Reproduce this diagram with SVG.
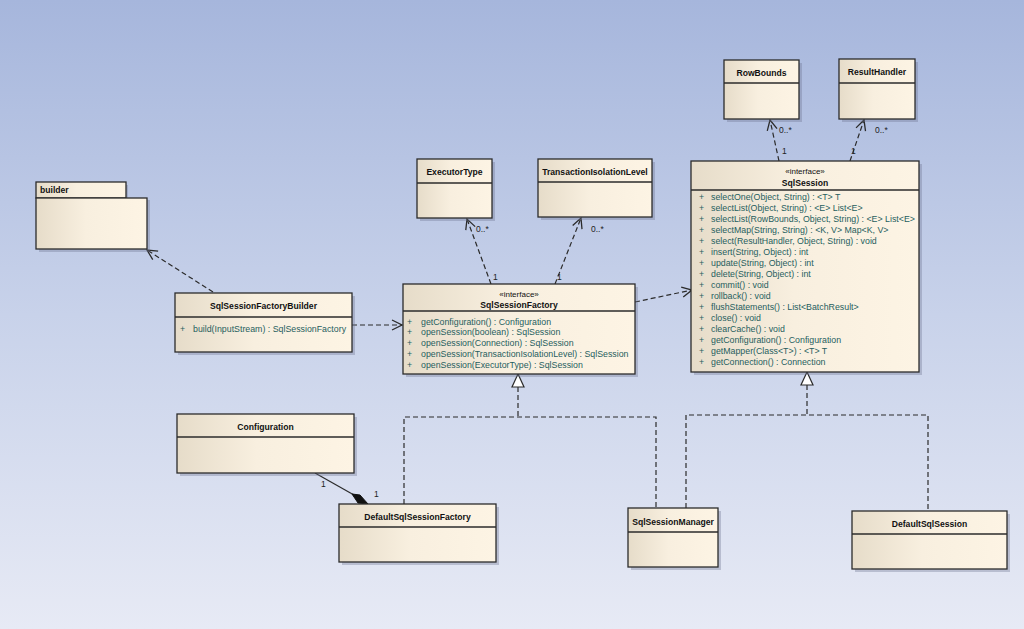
<svg xmlns="http://www.w3.org/2000/svg" width="1024" height="629" viewBox="0 0 1024 629">
<defs>
<linearGradient id="bg" x1="0" y1="0" x2="0" y2="1">
<stop offset="0" stop-color="#a6b6dc"/>
<stop offset="0.5" stop-color="#c8d2ea"/>
<stop offset="1" stop-color="#e7eaf5"/>
</linearGradient>
<linearGradient id="nf" x1="0" y1="0" x2="1" y2="0">
<stop offset="0" stop-color="#e6dcc9"/>
<stop offset="0.45" stop-color="#f8efdf"/>
<stop offset="1" stop-color="#fdf4e4"/>
</linearGradient>
<marker id="open" viewBox="0 0 12 12" refX="11" refY="6" markerWidth="12" markerHeight="12" markerUnits="userSpaceOnUse" orient="auto">
<path d="M1,1 L11,6 L1,11" fill="none" stroke="#2b2b2b" stroke-width="1.3"/>
</marker>
</defs>
<style>
.box{fill:url(#nf);stroke:#2b2b2b;stroke-width:1.3}
.sh{fill:#6e7490;opacity:0.35}
.div{stroke:#2b2b2b;stroke-width:1.3}
.t{font-family:"Liberation Sans",Arial,sans-serif;font-size:8.6px;font-weight:bold;fill:#111;text-anchor:middle}
.tl{font-family:"Liberation Sans",Arial,sans-serif;font-size:8.6px;font-weight:bold;fill:#111}
.st{font-family:"Liberation Sans",Arial,sans-serif;font-size:8px;fill:#111;text-anchor:middle}
.m{font-family:"Liberation Sans",Arial,sans-serif;font-size:8.8px;fill:#1f5e5e}
.lb{font-family:"Liberation Sans",Arial,sans-serif;font-size:8.5px;fill:#222}
.dep{fill:none;stroke:#2b2b2b;stroke-width:1.2;stroke-dasharray:5,3}
.sol{fill:none;stroke:#2b2b2b;stroke-width:1.2}
.tri{fill:#fff;stroke:#2b2b2b;stroke-width:1.2}
</style>
<rect width="1024" height="629" fill="url(#bg)"/>

<g id="connectors">
<path class="dep" d="M213,292 L147,250" marker-end="url(#open)"/>
<path class="dep" d="M352,325 L402,325" marker-end="url(#open)"/>
<path class="dep" d="M491,284 L467,219" marker-end="url(#open)"/>
<path class="dep" d="M555,284 L581,218" marker-end="url(#open)"/>
<path class="dep" d="M635,302 L692,290" marker-end="url(#open)"/>
<path class="dep" d="M779,161 L770,120" marker-end="url(#open)"/>
<path class="dep" d="M850,161 L864,120" marker-end="url(#open)"/>
<text class="lb" x="476" y="232">0..*</text>
<text class="lb" x="493" y="280">1</text>
<text class="lb" x="591" y="232">0..*</text>
<text class="lb" x="557" y="280">1</text>
<text class="lb" x="779" y="133">0..*</text>
<text class="lb" x="782" y="154">1</text>
<text class="lb" x="875" y="133">0..*</text>
<text class="lb" x="851" y="154">1</text>
<path class="dep" d="M518,387 L518,417 M404,504 L404,417 L656,417 L656,508"/>
<polygon class="tri" points="518,374 512,387 524,387"/>
<path class="dep" d="M807,385 L807,415 M686,508 L686,415 L928,415 L928,511"/>
<polygon class="tri" points="807,372 801,385 813,385"/>
<path class="sol" d="M315,473 L354,495"/>
<polygon points="352,494 360,495 368,504 358,503" fill="#111" stroke="#111" stroke-width="1"/>
<text class="lb" x="321" y="487">1</text>
<text class="lb" x="374" y="497">1</text>
</g>

<g id="builder">
<rect class="sh" x="39" y="185" width="89" height="15"/>
<rect class="sh" x="39" y="200" width="111" height="52"/>
<rect class="box" x="36" y="182" width="90" height="16"/>
<rect class="box" x="36" y="198" width="111" height="51"/>
<text class="tl" x="40" y="193">builder</text>
</g>

<g id="SqlSessionFactoryBuilder">
<rect class="sh" x="178" y="296" width="177" height="59"/>
<rect class="box" x="175" y="293" width="177" height="59"/>
<line class="div" x1="175" y1="317" x2="352" y2="317"/>
<text class="t" x="263.5" y="309">SqlSessionFactoryBuilder</text>
<text class="m" x="180" y="332">+</text>
<text class="m" x="193" y="332">build(InputStream) : SqlSessionFactory</text>
</g>

<g id="ExecutorType">
<rect class="sh" x="420" y="162" width="75" height="59"/>
<rect class="box" x="417" y="159" width="75" height="59"/>
<line class="div" x1="417" y1="183" x2="492" y2="183"/>
<text class="t" x="454.5" y="175">ExecutorType</text>
</g>

<g id="TransactionIsolationLevel">
<rect class="sh" x="541" y="162" width="114" height="58"/>
<rect class="box" x="538" y="159" width="114" height="58"/>
<line class="div" x1="538" y1="182" x2="652" y2="182"/>
<text class="t" x="595" y="175">TransactionIsolationLevel</text>
</g>

<g id="SqlSessionFactory">
<rect class="sh" x="406" y="287" width="232" height="90"/>
<rect class="box" x="403" y="284" width="232" height="90"/>
<line class="div" x1="403" y1="311" x2="635" y2="311"/>
<text class="st" x="519" y="297">«interface»</text>
<text class="t" x="519" y="308">SqlSessionFactory</text>
<text class="m" x="407" y="324.5">+</text><text class="m" x="421" y="324.5">getConfiguration() : Configuration</text>
<text class="m" x="407" y="335.4">+</text><text class="m" x="421" y="335.4">openSession(boolean) : SqlSession</text>
<text class="m" x="407" y="346.3">+</text><text class="m" x="421" y="346.3">openSession(Connection) : SqlSession</text>
<text class="m" x="407" y="357.2">+</text><text class="m" x="421" y="357.2">openSession(TransactionIsolationLevel) : SqlSession</text>
<text class="m" x="407" y="368.1">+</text><text class="m" x="421" y="368.1">openSession(ExecutorType) : SqlSession</text>
</g>

<g id="RowBounds">
<rect class="sh" x="727" y="63" width="75" height="59"/>
<rect class="box" x="724" y="60" width="75" height="59"/>
<line class="div" x1="724" y1="83" x2="799" y2="83"/>
<text class="t" x="761.5" y="76">RowBounds</text>
</g>

<g id="ResultHandler">
<rect class="sh" x="842" y="62" width="76" height="60"/>
<rect class="box" x="839" y="59" width="76" height="60"/>
<line class="div" x1="839" y1="83" x2="915" y2="83"/>
<text class="t" x="877" y="75">ResultHandler</text>
</g>

<g id="SqlSession">
<rect class="sh" x="694" y="164" width="228" height="211"/>
<rect class="box" x="691" y="161" width="228" height="211"/>
<line class="div" x1="691" y1="190" x2="919" y2="190"/>
<text class="st" x="805" y="174">«interface»</text>
<text class="t" x="805" y="186">SqlSession</text>
<text class="m" x="699" y="200.3">+</text><text class="m" x="711" y="200.3">selectOne(Object, String) : &lt;T&gt; T</text>
<text class="m" x="699" y="211.3">+</text><text class="m" x="711" y="211.3">selectList(Object, String) : &lt;E&gt; List&lt;E&gt;</text>
<text class="m" x="699" y="222.3">+</text><text class="m" x="711" y="222.3">selectList(RowBounds, Object, String) : &lt;E&gt; List&lt;E&gt;</text>
<text class="m" x="699" y="233.3">+</text><text class="m" x="711" y="233.3">selectMap(String, String) : &lt;K, V&gt; Map&lt;K, V&gt;</text>
<text class="m" x="699" y="244.3">+</text><text class="m" x="711" y="244.3">select(ResultHandler, Object, String) : void</text>
<text class="m" x="699" y="255.3">+</text><text class="m" x="711" y="255.3">insert(String, Object) : int</text>
<text class="m" x="699" y="266.3">+</text><text class="m" x="711" y="266.3">update(String, Object) : int</text>
<text class="m" x="699" y="277.3">+</text><text class="m" x="711" y="277.3">delete(String, Object) : int</text>
<text class="m" x="699" y="288.3">+</text><text class="m" x="711" y="288.3">commit() : void</text>
<text class="m" x="699" y="299.3">+</text><text class="m" x="711" y="299.3">rollback() : void</text>
<text class="m" x="699" y="310.3">+</text><text class="m" x="711" y="310.3">flushStatements() : List&lt;BatchResult&gt;</text>
<text class="m" x="699" y="321.3">+</text><text class="m" x="711" y="321.3">close() : void</text>
<text class="m" x="699" y="332.3">+</text><text class="m" x="711" y="332.3">clearCache() : void</text>
<text class="m" x="699" y="343.3">+</text><text class="m" x="711" y="343.3">getConfiguration() : Configuration</text>
<text class="m" x="699" y="354.3">+</text><text class="m" x="711" y="354.3">getMapper(Class&lt;T&gt;) : &lt;T&gt; T</text>
<text class="m" x="699" y="365.3">+</text><text class="m" x="711" y="365.3">getConnection() : Connection</text>
</g>

<g id="Configuration">
<rect class="sh" x="180" y="417" width="177" height="59"/>
<rect class="box" x="177" y="414" width="177" height="59"/>
<line class="div" x1="177" y1="437" x2="354" y2="437"/>
<text class="t" x="265.5" y="430">Configuration</text>
</g>

<g id="DefaultSqlSessionFactory">
<rect class="sh" x="342" y="507" width="157" height="58"/>
<rect class="box" x="339" y="504" width="157" height="58"/>
<line class="div" x1="339" y1="527" x2="496" y2="527"/>
<text class="t" x="417.5" y="520">DefaultSqlSessionFactory</text>
</g>

<g id="SqlSessionManager">
<rect class="sh" x="631" y="511" width="90" height="59"/>
<rect class="box" x="628" y="508" width="90" height="59"/>
<line class="div" x1="628" y1="532" x2="718" y2="532"/>
<text class="t" x="673" y="525">SqlSessionManager</text>
</g>

<g id="DefaultSqlSession">
<rect class="sh" x="855" y="514" width="155" height="58"/>
<rect class="box" x="852" y="511" width="155" height="58"/>
<line class="div" x1="852" y1="534" x2="1007" y2="534"/>
<text class="t" x="929.5" y="527">DefaultSqlSession</text>
</g>
</svg>
